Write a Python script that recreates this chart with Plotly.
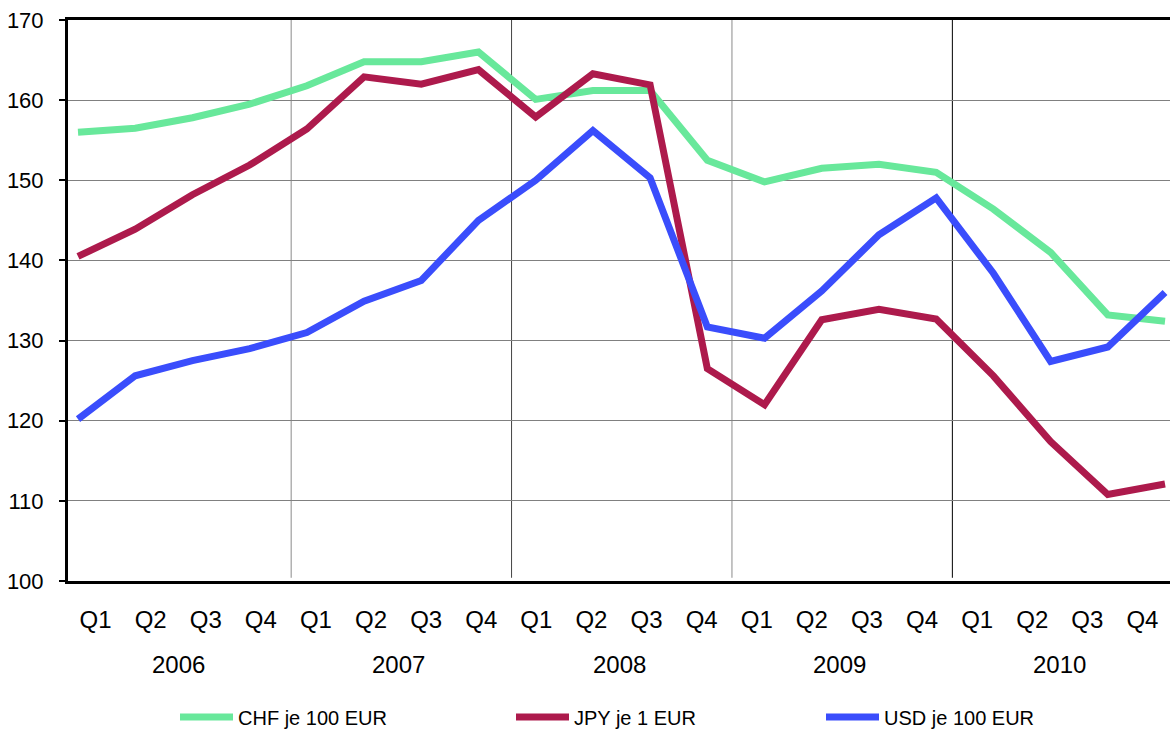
import plotly.graph_objects as go

quarters = ["Q1", "Q2", "Q3", "Q4"] * 5
years = ["2006", "2007", "2008", "2009", "2010"]

chf = [156.0, 156.5, 157.8, 159.5, 161.8, 164.8, 164.8, 166.0, 160.1, 161.2,
       161.2, 152.5, 149.8, 151.5, 152.0, 151.0, 146.4, 141.0, 133.2, 132.4]
jpy = [140.5, 143.9, 148.2, 151.9, 156.4, 162.9, 162.0, 163.8, 157.9, 163.3,
       161.9, 126.5, 122.0, 132.6, 133.9, 132.7, 125.6, 117.4, 110.8, 112.1]
usd = [120.2, 125.6, 127.5, 129.0, 131.0, 134.9, 137.5, 145.0, 150.0, 156.2,
       150.3, 131.7, 130.3, 136.2, 143.2, 147.8, 138.4, 127.4, 129.2, 136.0]

names = ["CHF je 100 EUR", "JPY je 1 EUR", "USD je 100 EUR"]
colors = ["#68E89B", "#AD1A4C", "#3A4DFC"]
series = [chf, jpy, usd]
legends = ["legend", "legend2", "legend3"]

FONT = "Liberation Sans, Arial, sans-serif"
idx = list(range(len(chf)))

fig = go.Figure()
for s, n, c, lg in zip(series, names, colors, legends):
    fig.add_trace(go.Scatter(
        x=idx, y=s, name=n, mode="lines",
        line=dict(color=c, width=7),
        xaxis="x2", legend=lg,
    ))

# year separators
sep_colors = ["#8a8a8a", "#444444", "#8a8a8a", "#000000"]
for i, col in enumerate(sep_colors):
    fig.add_shape(type="line", xref="x", yref="y",
                  x0=4 * (i + 1) - 0.45, x1=4 * (i + 1) - 0.45, y0=100.4, y1=170,
                  line=dict(color=col, width=1), layer="below")

for i, yr in enumerate(years):
    fig.add_annotation(x=4 * i + 1.5, xref="x", y=-0.148, yref="paper",
                       text=yr, showarrow=False, yanchor="middle",
                       font=dict(family=FONT, size=24, color="black"))

fig.update_layout(
    width=1170, height=731,
    margin=dict(l=68, r=0, t=20, b=150),
    paper_bgcolor="white", plot_bgcolor="white",
    font=dict(family=FONT, size=20, color="black"),
    xaxis=dict(
        range=[-0.5, 19.5], tickmode="array", tickvals=idx, ticktext=quarters,
        showgrid=False, zeroline=False, showline=True, linecolor="black",
        linewidth=3, mirror=True, ticks="", ticklabelstandoff=15,
        tickfont=dict(family=FONT, size=24, color="black"), automargin=False,
    ),
    xaxis2=dict(range=[-0.1748, 19.087], overlaying="x", visible=False),
    yaxis=dict(
        range=[100, 170], tickmode="linear", tick0=100, dtick=10,
        showgrid=True, gridcolor="#808080", gridwidth=1, zeroline=False,
        showline=True, linecolor="black", linewidth=3,
        ticks="outside", ticklen=6, tickwidth=2, tickcolor="black",
        ticklabelstandoff=11, automargin=False,
        tickfont=dict(family=FONT, size=22, color="black"),
    ),
    showlegend=True,
)

leg_common = dict(orientation="h", yref="container", xref="container",
                  yanchor="middle", y=1 - 717 / 731, xanchor="left",
                  bgcolor="rgba(0,0,0,0)", font=dict(family=FONT, size=20, color="black"),
                  itemwidth=53)
fig.update_layout(
    legend=dict(x=175 / 1170, **leg_common),
    legend2=dict(x=511 / 1170, **leg_common),
    legend3=dict(x=821 / 1170, **leg_common),
)

fig.write_html(
    "out.html",
    config={"displayModeBar": False},
    post_script="document.body.style.margin='0';document.body.style.overflow='hidden';",
)
